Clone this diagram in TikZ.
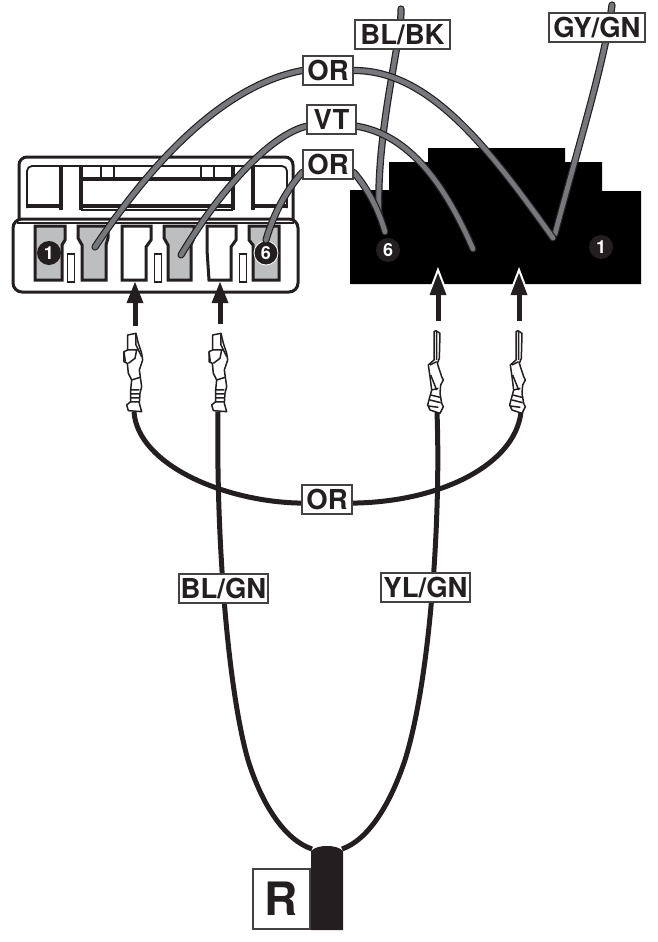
\documentclass[tikz,border=0pt]{standalone}
\usepackage{fontspec}
\setmainfont{TeX Gyre Heros}
\definecolor{ink}{HTML}{231F20}
\definecolor{wirecore}{HTML}{77787B}
\definecolor{cavgray}{HTML}{BCBEC0}
\pgfdeclarelayer{back}
\pgfdeclarelayer{mid}
\pgfsetlayers{back,mid,main}
\tikzset{
  greywire/.style={draw=wirecore,line width=4.8pt,line cap=round,preaction={draw=ink,line width=7.2pt,line cap=round}},
  blackwire/.style={draw=ink,line width=5pt},
  tag/.style={draw=ink!85,fill=white,line width=1.2pt,inner sep=0pt,font=\bfseries\fontsize{27.5}{27.5}\selectfont,text=ink},
  pinnum/.style={circle,fill=ink,inner sep=0pt,minimum size=24pt,text=white,font=\bfseries\fontsize{18}{18}\selectfont},
  housing/.style={draw=ink,line width=3pt,fill=white},
  cavity/.style={draw=ink,line width=3pt},
  bar/.style={draw=ink,line width=3.6pt},
  thin/.style={draw=ink,line width=1.4pt},
  pushup/.style={fill=ink,draw=none},
  termline/.style={draw=ink,line width=1.5pt,fill=white,line join=round}
}
\newcommand{\tagbox}[5]{\node[tag,minimum width=#3pt,minimum height=#4pt] (#1) at (#2) {#5};}
\newcommand{\termA}[1]{%
 \begin{scope}[shift={(#1)},x=0.3333pt,y=-0.3333pt]
  \draw[termline] (83,135)--(108,130)--(115,160)--(125,190)--(128,210)--(118,240)--(125,290)--(120,310)--(118,340)--(125,365)--(85,362)--(80,345)--(92,335)--(92,300)--(95,270)--(85,250)--(82,220)--(72,215)--(72,185)--(83,180)--cycle;
  \draw[termline,fill=none] (83,180)--(110,180)--(105,205)--(85,220) (108,130)--(108,165)--(125,200) (92,300)--(118,300) (92,312)--(118,312) (92,324)--(118,324) (92,336)--(118,336) (72,185)--(76,215) (95,270)--(120,262);
 \end{scope}}
\newcommand{\termB}[1]{%
 \begin{scope}[shift={(#1)},x=0.3333pt,y=-0.3333pt]
  \draw[termline] (72,125)--(78,122)--(90,130)--(88,205)--(82,220)--(95,260)--(100,270)--(92,285)--(90,310)--(95,340)--(100,350)--(90,370)--(60,360)--(53,345)--(65,300)--(60,260)--(55,225)--(72,210)--cycle;
  \draw[termline,fill=none] (80,125)--(80,210) (60,225)--(80,215) (65,300)--(85,295) (62,315)--(90,322) (60,330)--(92,338) (55,348)--(85,352) (62,255)--(80,300);
 \end{scope}}
\begin{document}
\begin{tikzpicture}[x=1pt,y=-1pt]
\useasboundingbox (0,0) rectangle (658,942);
\begin{pgfonlayer}{back}
% left connector, upper housing
\draw[housing,rounded corners=8pt] (19,222)--(19,157)--(293,157)--(293,222);
\draw[thin,rounded corners=5pt,line width=1.8pt] (27,208)--(27,166)--(287,166)--(287,208);
\draw[bar] (27,206)--(61,206) (81,206)--(233,206) (253,206)--(287,206);
\draw[bar] (61,165)--(61,210) (81,165)--(81,210) (233,165)--(233,210) (253,165)--(253,210);
\draw[bar] (81,179)--(233,179);
\draw[thin,line width=2pt] (101,167)--(101,178) (114,167)--(114,178) (201,167)--(201,178) (214,167)--(214,178);
\draw[thin] (81,210)--(233,210);
% left connector, lower housing
\draw[housing,rounded corners=9pt] (13,219) rectangle (298,292);
\draw[thin] (17,223)--(294,223);
% cavities
\draw[cavity,fill=cavgray] (35,226)--(65,226)--(65,240)--(62,245)--(62,280)--(35,280)--cycle;
\draw[cavity,fill=cavgray] (78,226)--(108,226)--(108,238)--(106,245)--(106,280)--(82,280)--(82,245)--(78,238)--cycle;
\draw[cavity,fill=white] (122,226)--(151,226)--(151,240)--(146,247)--(146,280)--(122,280)--cycle;
\draw[cavity,fill=cavgray] (164,226)--(194,226)--(194,238)--(191,245)--(191,280)--(168,280)--(168,245)--(164,238)--cycle;
\draw[cavity,fill=white] (207,226)--(236,226)--(236,240)--(231,247)--(231,280)--(209,280)--(207,250)--cycle;
\draw[cavity,fill=cavgray] (249,226)--(279,226)--(279,280)--(253,280)--(253,245)--(249,240)--cycle;
\foreach \x in {67.5,154.5,239.5}{\draw[thin] (\x,254) rectangle (\x+7,282);}
% right connector
\fill[black] (350,190)--(389,190)--(389,162)--(428,162)--(428,148)--(565,148)--(565,162)--(602,162)--(602,191)--(641,191)--(641,284)--(350,284)--cycle;
% numbered pins
\node[pinnum] (pa) at (49,253) {1};
\node[pinnum,draw=white,line width=0.8pt] (pb) at (266,253) {6};
\node[pinnum] (pc) at (388,250) {6};
\node[pinnum] (pd) at (601,247) {1};
\end{pgfonlayer}
% tags
\tagbox{tagora}{328,70.5}{50}{29}{OR}
\tagbox{tagvt}{331.5,119.5}{49}{29}{VT}
\tagbox{tagorb}{328,164.5}{50}{29}{OR}
\tagbox{tagblbk}{402.5,34.5}{95}{29}{BL/BK}
\tagbox{taggygn}{597,27.5}{96}{29}{GY/GN}
\tagbox{tagorc}{327,499.5}{50}{29}{OR}
\tagbox{tagblgn}{223.5,588.5}{89}{29}{BL/GN}
\tagbox{tagylgn}{425.5,587.5}{89}{29}{YL/GN}
% wire end points
\coordinate (wa) at (95,247);
\coordinate (wb) at (553,238);
\coordinate (wc) at (181,255);
\coordinate (wd) at (473,249);
\coordinate (we) at (266,240);
\coordinate (wf) at (385,232);
\coordinate (wg) at (401,9);
\coordinate (wh) at (379,215);
\coordinate (wi) at (612,5);
\coordinate (wj) at (555,234);
\coordinate (ta) at (134,412);
\coordinate (tb) at (218,412);
\coordinate (tc) at (437,412);
\coordinate (td) at (521,412);
\coordinate (sl) at (312,849);
\coordinate (sr) at (342,849);
\begin{pgfonlayer}{mid}
% grey wires
\draw[greywire] (wg) .. controls (402,40) and (376,130) .. (wh);
\draw[greywire] (wi) .. controls (605,60) and (580,140) .. (wj);
\draw[greywire] (wa) .. controls (160,150) and (230,84) .. (tagora.west);
\draw[greywire] (tagora.east) .. controls (430,70) and (490,150) .. (wb);
\draw[greywire] (wc) .. controls (220,190) and (270,135) .. (tagvt.195);
\draw[greywire] (tagvt.-15) .. controls (410,135) and (445,185) .. (wd);
\draw[greywire] (we) .. controls (274,212) and (288,188) .. (tagorb.197);
\draw[greywire] (tagorb.-17) .. controls (365,185) and (378,207) .. (wf);
% black wires
\draw[blackwire] (tb) .. controls (216,540) and (228,690) .. (248,760) .. controls (262,805) and (285,840) .. (sl);
\draw[blackwire] (tc) .. controls (441,520) and (430,680) .. (405,760) .. controls (390,805) and (368,840) .. (sr);
\draw[blackwire] (ta) .. controls (138,465) and (225,502) .. (tagorc.188);
\draw[blackwire] (tagorc.-8) .. controls (440,502) and (515,465) .. (td);
\end{pgfonlayer}
% push arrows
\foreach \n/\x/\tip/\base/\bot in {a/135/282/303/326,b/220/282/303/324}{
 \fill[pushup] (\x,\tip)--(\x+8.5,\base)--(\x-8.5,\base)--cycle;
 \draw[ink,line width=5pt] (\x,\base)--(\x,\bot);
}
\foreach \n/\x/\tip/\base/\bot in {c/438/270/295/321,d/519/270/295/321}{
 \fill[white] (\x,\tip-3)--(\x+11,\base+1)--(\x-11,\base+1)--cycle;
 \fill[pushup] (\x,\tip+3)--(\x+8.5,\base)--(\x-8.5,\base)--cycle;
 \draw[ink,line width=5pt] (\x,\base)--(\x,\bot);
}
% terminals
\termA{100,290}
\termA{185,290}
\termB{410,290}
\termB{492,290}
% sleeve and R
\fill[ink] (311,930)--(311,851) .. controls (315,847) and (321,846) .. (327,846) .. controls (333,846) and (339,847) .. (343,851)--(343,930)--cycle;
\node[tag,minimum width=57pt,minimum height=60pt,font=\bfseries\fontsize{46}{46}\selectfont] (rbox) at (281.5,899) {R};
\end{tikzpicture}
\end{document}
